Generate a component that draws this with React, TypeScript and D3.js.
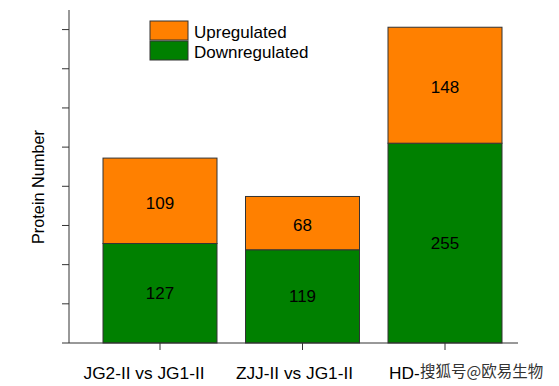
import React from "react";
import * as d3 from "d3";

const categories = ["JG2-II vs JG1-II", "ZJJ-II vs JG1-II", "HD-"];
const downregulated = [127, 119, 255];
const upregulated = [109, 68, 148];
const yTicks = [0, 50, 100, 150, 200, 250, 300, 350, 400];
const seriesNames = ["Upregulated", "Downregulated"];
const watermark = "搜狐号@欧易生物";
const colors = { up: "#FF8000", down: "#008000" };

export default function App() {
  const W = 559, H = 386;
  const x0 = 69, x1 = 518, yBottom = 343, yTop = 10;
  const y = d3.scaleLinear().domain([0, 425]).range([yBottom, yTop]);
  const xc = d3.scalePoint<string>().domain(categories).range([160, 445]);
  const step = xc.step();
  const bw = step * 0.8;
  const font = "Liberation Sans, Arial, sans-serif";
  const stroke = "#333";
  const labelShift = [-16, -8, -56];

  return (
    <svg width={W} height={H} style={{ position: "absolute", left: 0, top: 0 }} fontFamily={font}>
      <rect width={W} height={H} fill="#fff" />
      {categories.map((c, i) => {
        const cx = xc(c)!;
        const d = downregulated[i], u = upregulated[i];
        const last = i === categories.length - 1;
        return (
          <g key={c}>
            <rect x={cx - bw / 2} y={y(d)} width={bw} height={y(0) - y(d)} fill={colors.down} stroke={stroke} strokeWidth={1} />
            <rect x={cx - bw / 2} y={y(d + u)} width={bw} height={y(d) - y(d + u)} fill={colors.up} stroke={stroke} strokeWidth={1} />
            <text x={cx} y={(y(0) + y(d)) / 2} dy="0.35em" textAnchor="middle" fontSize={17} fill="#000">{d}</text>
            <text x={cx} y={(y(d) + y(d + u)) / 2 + 2} dy="0.35em" textAnchor="middle" fontSize={17} fill="#000">{u}</text>
            <line x1={cx} x2={cx} y1={yBottom} y2={yBottom + 7} stroke={stroke} />
            <text x={cx + labelShift[i]} y={379} textAnchor={last ? "start" : "middle"} fontSize={17.3} fill="#000">{c}</text>
          </g>
        );
      })}
      {/* axes */}
      <line x1={x0} x2={x0} y1={yTop} y2={yBottom} stroke={stroke} />
      <line x1={x0} x2={x1} y1={yBottom} y2={yBottom} stroke={stroke} />
      {yTicks.map((t) => (
        <line key={t} x1={x0 - 7} x2={x0} y1={y(t)} y2={y(t)} stroke={stroke} />
      ))}
      <text transform={`translate(43.5,187) rotate(-90)`} textAnchor="middle" fontSize={16.3} fill="#000">Protein Number</text>
      {/* legend */}
      <rect x={150} y={21} width={38} height={19} fill={colors.up} stroke={stroke} />
      <rect x={150} y={41} width={38} height={19} fill={colors.down} stroke={stroke} />
      <text x={194} y={37.5} fontSize={17} fill="#000">{seriesNames[0]}</text>
      <text x={194} y={57.5} fontSize={17} fill="#000">{seriesNames[1]}</text>
      {/* watermark */}
      <text x={420} y={377} fontSize={15.5} fill="#333" stroke="#fff" strokeWidth={3} style={{ paintOrder: "stroke" }} fontFamily="Noto Sans CJK SC, sans-serif">{watermark}</text>
    </svg>
  );
}
